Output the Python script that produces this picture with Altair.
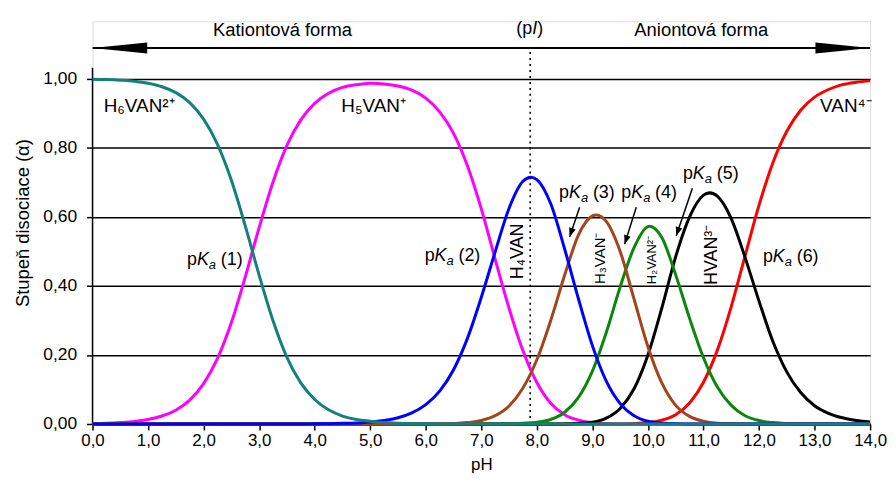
import altair as alt
import pandas as pd

# ---------------- data ----------------
PH = [0.0, 0.25, 0.5, 0.75, 1.0, 1.25, 1.5, 1.75, 2.0, 2.25, 2.5, 2.75, 3.0, 3.25, 3.5, 3.75,
      4.0, 4.25, 4.5, 4.75, 5.0, 5.25, 5.5, 5.75, 6.0, 6.25, 6.5, 6.75, 7.0, 7.25, 7.5, 7.75,
      8.0, 8.25, 8.5, 8.75, 9.0, 9.25, 9.5, 9.75, 10.0, 10.25, 10.5, 10.75, 11.0, 11.25, 11.5,
      11.75, 12.0, 12.25, 12.5, 12.75, 13.0, 13.25, 13.5, 13.75, 14.0]

H6VAN = [0.999, 0.998, 0.996, 0.993, 0.987, 0.977, 0.960, 0.931, 0.883, 0.810, 0.706, 0.574,
         0.431, 0.299, 0.193, 0.119, 0.071, 0.041, 0.023, 0.013, 0.008, 0.004, 0.002, 0.001,
         0.001] + [0.0] * 32

H5VAN = [0.001, 0.002, 0.004, 0.007, 0.013, 0.023, 0.040, 0.069, 0.117, 0.190, 0.294, 0.426,
         0.569, 0.701, 0.807, 0.881, 0.929, 0.958, 0.975, 0.983, 0.987, 0.985, 0.979, 0.967,
         0.944, 0.904, 0.842, 0.748, 0.623, 0.477, 0.335, 0.212, 0.120, 0.060, 0.027, 0.011,
         0.004, 0.001, 0.000] + [0.0] * 18

H4VAN = [0.0] * 16 + [0.0005, 0.001, 0.002, 0.003, 0.006, 0.010, 0.018, 0.032, 0.056, 0.095,
                      0.157, 0.248, 0.367, 0.499, 0.625, 0.703, 0.708, 0.638, 0.507, 0.362,
                      0.227, 0.124, 0.059, 0.024, 0.008, 0.003, 0.001, 0.000] + [0.0] * 13

H3VAN = [0.0] * 24 + [0.0001, 0.0005, 0.001, 0.004, 0.010, 0.024, 0.052, 0.104, 0.186, 0.300,
                      0.431, 0.548, 0.603, 0.587, 0.500, 0.362, 0.224, 0.119, 0.054, 0.022,
                      0.008, 0.002, 0.001, 0.000] + [0.0] * 9

H2VAN = [0.0] * 29 + [0.000, 0.000, 0.002, 0.005, 0.013, 0.034, 0.077, 0.153, 0.265, 0.397,
                      0.511, 0.572, 0.540, 0.432, 0.306, 0.192, 0.107, 0.054, 0.024, 0.010,
                      0.004, 0.001, 0.000] + [0.0] * 5

HVAN = [0.0] * 34 + [0.000, 0.002, 0.005, 0.017, 0.045, 0.102, 0.200, 0.336, 0.485, 0.600,
                     0.663, 0.660, 0.595, 0.482, 0.356, 0.239, 0.151, 0.091, 0.053, 0.031,
                     0.018, 0.010, 0.006]

VAN = [0.0] * 37 + [0.000, 0.000, 0.001, 0.004, 0.011, 0.027, 0.061, 0.121, 0.214, 0.340,
                    0.488, 0.634, 0.757, 0.848, 0.909, 0.947, 0.969, 0.983, 0.990, 0.994]

SERIES_ORDER = ["H5VAN", "VAN", "HVAN", "H2VAN", "H3VAN", "H4VAN", "H6VAN"]
SERIES_VALUES = {"H6VAN": H6VAN, "H5VAN": H5VAN, "H4VAN": H4VAN, "H3VAN": H3VAN,
                 "H2VAN": H2VAN, "HVAN": HVAN, "VAN": VAN}
SERIES_COLORS = {"H6VAN": "#13807e", "H5VAN": "#ff00ff", "H4VAN": "#0000ff",
                 "H3VAN": "#a3451c", "H2VAN": "#0b870b", "HVAN": "#000000", "VAN": "#ff0000"}

X_TICKS = list(range(15))
Y_TICKS = [0.0, 0.2, 0.4, 0.6, 0.8, 1.0]

PI_VALUE = 7.88

# species labels (horizontal)
SP_LABELS = ["H₆VAN²⁺", "H₅VAN⁺", "VAN⁴⁻"]
SP_X = [0.20, 4.48, 13.10]
SP_Y = [0.922, 0.922, 0.922]

# species labels (rotated)
ROT_LABELS = ["H₄VAN", "H₃VAN⁻", "H₂VAN²⁻", "HVAN³⁻"]
ROT_X = [7.66, 9.13, 10.08, 11.15]
ROT_Y = [0.50, 0.48, 0.475, 0.49]
ROT_SIZE = [18, 15, 13, 18]

# pKa labels
PKA_NUM = ["(1)", "(2)", "(3)", "(4)", "(5)", "(6)"]
PKA_X = [1.70, 5.98, 8.40, 9.52, 10.63, 12.07]
PKA_Y = [0.475, 0.487, 0.668, 0.668, 0.723, 0.484]

# pKa arrows (start -> tip)
ARR_X0 = [8.77, 9.79, 10.80]
ARR_Y0 = [0.628, 0.628, 0.683]
ARR_X1 = [8.59, 9.58, 10.51]
ARR_Y1 = [0.542, 0.521, 0.545]
ARR_ANGLE = [18, 18, 18]

# ---------------- chart ----------------
FONT = "Liberation Sans, Arial, Helvetica, sans-serif"
xs = alt.Scale(domain=[0, 14], nice=False, zero=False)
ys = alt.Scale(domain=[0, 1.1667], nice=False, zero=False)

x_axis = alt.Axis(values=X_TICKS, labelExpr="replace(format(datum.value, '.1f'), '.', ',')",
                  title="pH", grid=False, domainColor="black", domainWidth=1.5,
                  tickColor="black", tickWidth=1.5, tickSize=6, labelFont=FONT,
                  labelFontSize=17, labelColor="black", labelPadding=3, titleFont=FONT,
                  titleFontSize=17, titleFontWeight="normal", titleColor="black",
                  titlePadding=8, labelFlush=False)
y_axis = alt.Axis(values=Y_TICKS, labelExpr="replace(format(datum.value, '.2f'), '.', ',')",
                  title="Stupeň disociace (α)", grid=True, gridColor="black", gridWidth=1.5,
                  domain=False, tickColor="black", tickWidth=1.5, tickSize=6, labelFont=FONT,
                  labelFontSize=17.5, labelColor="black", labelPadding=10, titleFont=FONT,
                  titleFontSize=18.5, titleFontWeight="normal", titleColor="black",
                  titlePadding=10, labelFlush=False)


def X(f):
    return alt.X(f + ":Q", scale=xs, axis=x_axis)


def Y(f):
    return alt.Y(f + ":Q", scale=ys, axis=y_axis)


layers = []

# y axis line
axis_df = pd.DataFrame({"x": [0.0], "y": [0.0], "y2": [1.032]})
layers.append(alt.Chart(axis_df).mark_rule(color="black", strokeWidth=1.5).encode(
    x=X("x"), y=Y("y"), y2="y2:Q"))

# pI dotted line
pi_df = pd.DataFrame({"x": [PI_VALUE], "y": [0.0], "y2": [1.085]})
layers.append(alt.Chart(pi_df).mark_rule(color="black", strokeWidth=1.6, strokeDash=[2, 4]).encode(
    x=X("x"), y=Y("y"), y2="y2:Q"))

# curves
for name in SERIES_ORDER:
    df = pd.DataFrame({"pH": PH, "a": SERIES_VALUES[name]})
    layers.append(alt.Chart(df).mark_line(color=SERIES_COLORS[name], strokeWidth=3,
                                          interpolate="cardinal").encode(
        x=X("pH"), y=Y("a")))

# top arrow
top_df = pd.DataFrame({"x": [0.0], "x2": [14.0], "y": [1.089]})
layers.append(alt.Chart(top_df).mark_rule(color="black", strokeWidth=2).encode(
    x=X("x"), x2="x2:Q", y=Y("y")))
head_l = pd.DataFrame({"x": [0.0], "y": [1.089]})
head_r = pd.DataFrame({"x": [14.0], "y": [1.089]})
layers.append(alt.Chart(head_l).mark_point(shape="M0,0 L2,-0.2 L2,0.2 Z", size=3025, filled=True,
                                           color="black", opacity=1).encode(x=X("x"), y=Y("y")))
layers.append(alt.Chart(head_r).mark_point(shape="M0,0 L-2,-0.2 L-2,0.2 Z", size=3025, filled=True,
                                           color="black", opacity=1).encode(x=X("x"), y=Y("y")))

# top texts
top_txt = pd.DataFrame({"x": [3.42, 10.96], "y": [1.141, 1.141],
                        "t": ["Kationtová forma", "Aniontová forma"]})
layers.append(alt.Chart(top_txt).mark_text(font=FONT, fontSize=18.5, color="black",
                                           align="center", baseline="middle").encode(
    x=X("x"), y=Y("y"), text="t:N"))
pi_txt = pd.DataFrame({"x": [7.63], "y": [1.144]})
for txt, dx, style in [("(p", 0, "normal"), ("I", 16, "italic"), (")", 21, "normal")]:
    layers.append(alt.Chart(pi_txt).mark_text(font=FONT, fontSize=18, color="black", align="left",
                                              baseline="middle", dx=dx, fontStyle=style,
                                              text=txt).encode(x=X("x"), y=Y("y")))

# species labels
sp_df = pd.DataFrame({"x": SP_X, "y": SP_Y, "t": SP_LABELS})
layers.append(alt.Chart(sp_df).mark_text(font=FONT, fontSize=19, color="black", align="left",
                                         baseline="middle").encode(
    x=X("x"), y=Y("y"), text="t:N"))
for lab, x, y, s in zip(ROT_LABELS, ROT_X, ROT_Y, ROT_SIZE):
    d = pd.DataFrame({"x": [x], "y": [y], "t": [lab]})
    layers.append(alt.Chart(d).mark_text(font=FONT, fontSize=s, color="black", align="center",
                                         baseline="middle", angle=270).encode(
        x=X("x"), y=Y("y"), text="t:N"))

# pKa labels
pka_df = pd.DataFrame({"x": PKA_X, "y": PKA_Y, "n": PKA_NUM})
pieces = [("p", 0, 0, 18, "normal"), ("K", 10, 0, 18, "italic"), ("a", 22, 5, 13, "italic")]
for txt, dx, dy, fs, style in pieces:
    layers.append(alt.Chart(pka_df).mark_text(font=FONT, fontSize=fs, color="black", align="left",
                                              baseline="middle", dx=dx, dy=dy, fontStyle=style,
                                              text=txt).encode(x=X("x"), y=Y("y")))
layers.append(alt.Chart(pka_df).mark_text(font=FONT, fontSize=18, color="black", align="left",
                                          baseline="middle", dx=34).encode(
    x=X("x"), y=Y("y"), text="n:N"))

# pKa arrows
arr_df = pd.DataFrame({"x0": ARR_X0, "y0": ARR_Y0, "x1": ARR_X1, "y1": ARR_Y1, "ang": ARR_ANGLE})
layers.append(alt.Chart(arr_df).mark_rule(color="black", strokeWidth=1.5).encode(
    x=X("x0"), y=Y("y0"), x2="x1:Q", y2="y1:Q"))
for i in range(len(ARR_X1)):
    d = pd.DataFrame({"x": [ARR_X1[i]], "y": [ARR_Y1[i]]})
    layers.append(alt.Chart(d).mark_point(shape="M0,0 L-0.38,-1 L0.38,-1 Z", size=324, filled=True,
                                          color="black", opacity=1, angle=ARR_ANGLE[i]).encode(
        x=X("x"), y=Y("y")))

chart = alt.layer(*layers).properties(
    width=782, height=405,
    padding={"left": 85, "top": 12, "right": 18, "bottom": 55},
    autosize=alt.AutoSizeParams(type="none"),
).configure_view(stroke=None).configure(background="white")

chart.save("out.html", embed_options={"renderer": "svg", "actions": False})
